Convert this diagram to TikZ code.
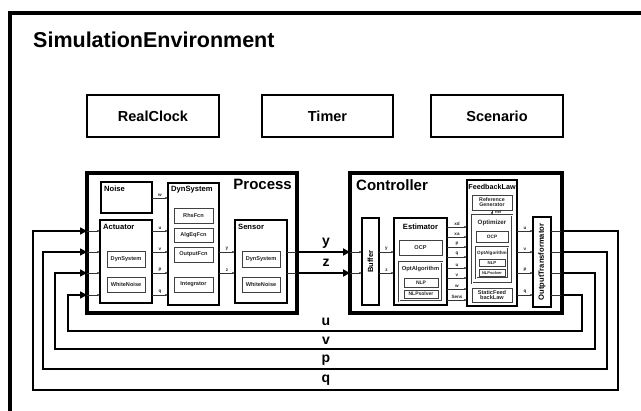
\documentclass[tikz,border=0pt]{standalone}
\usepackage{fontspec}
\setmainfont{Liberation Sans}
\usetikzlibrary{arrows.meta,calc}

% box from corner (x1,y1) to (x2,y2), y measured downwards
\newcommand\blk[7][]{\node[anchor=north west,inner sep=0pt,outer sep=0pt,
  minimum width={#5pt-#3pt},minimum height={#6pt-#4pt},#1] (#2) at (#3,#4) {#7};}
\newcommand\fsz[1]{\bfseries\fontsize{#1}{#1}\selectfont}

\tikzset{
  frame/.style={draw,line width=3.5pt},
  bigbox/.style={draw,line width=3.3pt},
  clockbox/.style={draw,line width=2.4pt,font=\fsz{14.5}},
  mid/.style={draw,line width=1.4pt},
  inbox/.style={draw=black!75,line width=0.8pt,font=\fsz{5.6},text=black!85},
  dbl/.style={draw=black!75,line width=0.45pt,double,double distance=0.9pt},
  ttl/.style={inner sep=0pt,font=\fsz{7.6}},
  sttl/.style={inner sep=0pt,font=\fsz{5.8},text=black!85},
  tiny/.style={inner sep=0pt,font=\fsz{4.6},text=black!85},
  sig/.style={draw=black!80,line width=0.6pt,-{Latex[length=2.6pt,width=2.2pt]}},
  wire/.style={draw=black!80,line width=0.6pt},
  fb/.style={line width=1.6pt,-{Triangle[length=7pt,width=7pt]}},
  yz/.style={line width=2.2pt,-{Triangle[length=7pt,width=7pt]}},
  biglbl/.style={inner sep=0pt,font=\fsz{14}},
  jdot/.style={fill,circle,inner sep=0pt,minimum size=2.6pt},
}

\begin{document}
\begin{tikzpicture}[x=1pt,y=-1pt]
\path[use as bounding box,clip] (0,0) rectangle (641,411);
\fill[white] (0,0) rectangle (641,411);

% outer environment frame (runs past the page on the right and bottom)
\blk[frame]{env}{10}{13}{680}{450}{}
\node[anchor=base west,inner sep=0pt,font=\fsz{21.5}] (title) at (33,48) {SimulationEnvironment};

% top row
\blk[clockbox]{clock}{87}{95}{219}{137}{RealClock}
\blk[clockbox]{timer}{262}{95}{393}{137}{Timer}
\blk[clockbox]{scen}{431}{95}{563}{137}{Scenario}

% ---------------- Process ----------------
\blk[bigbox]{proc}{87}{173}{297}{313}{}
\node[anchor=base east,inner sep=0pt,font=\fsz{15}] (procT) at (292,190) {Process};

\blk[mid,line width=1.8pt]{noise}{101}{182}{152}{213}{}
\node[ttl,anchor=west] (noiseT) at (104,189) {Noise};

\blk[mid]{act}{100}{220}{152}{303}{}
\node[ttl,anchor=west] (actT) at (103,227) {Actuator};
\blk[inbox]{actdyn}{107}{251}{145}{267}{DynSystem}
\blk[inbox]{actwn}{107}{277}{145}{292}{WhiteNoise}

\blk[mid]{dyn}{168}{183}{219}{305}{}
\node[ttl,anchor=west] (dynT) at (171,190) {DynSystem};
\blk[inbox]{rhs}{174}{208}{213}{223}{RhsFcn}
\blk[inbox]{alg}{174}{228}{213}{242}{AlgEqFcn}
\blk[inbox]{outf}{174}{247}{213}{262}{OutputFcn}
\blk[inbox]{integ}{174}{277}{213}{292}{Integrator}

\blk[mid]{sens}{235}{220}{287}{303}{}
\node[ttl,anchor=west] (sensT) at (238,227) {Sensor};
\blk[inbox]{sensdyn}{242}{251}{280}{267}{DynSystem}
\blk[inbox]{senswn}{242}{277}{280}{292}{WhiteNoise}

% signals inside Process
\draw[sig] (noise.east |- 0,198) -- node[tiny,above=1.2pt] (wL) {w} (dyn.west |- 0,198);
\draw[sig] (act.east |- 0,231) -- node[tiny,above=1.2pt] (uL) {u} (dyn.west |- 0,231);
\draw[sig] (act.east |- 0,252) -- node[tiny,above=1.2pt] (vL) {v} (dyn.west |- 0,252);
\draw[sig] (act.east |- 0,273) -- node[tiny,above=1.2pt] (pL) {p} (dyn.west |- 0,273);
\draw[sig] (act.east |- 0,295) -- node[tiny,above=1.2pt] (qL) {q} (dyn.west |- 0,295);
\draw[sig] (dyn.east |- 0,252) -- node[tiny,above=1.2pt] (yL) {y} (sens.west |- 0,252);
\draw[sig] (dyn.east |- 0,273) -- node[tiny,above=1.2pt] (zL) {z} (sens.west |- 0,273);
\foreach \yy in {231,252,273,295}
  \draw[sig] (proc.west |- 0,\yy) -- (act.west |- 0,\yy);
\foreach \yy in {252,273}
  \draw[wire] (sens.east |- 0,\yy) -- (proc.east |- 0,\yy);

% ---------------- Controller ----------------
\blk[bigbox]{ctrl}{350}{173}{562}{313}{}
\node[anchor=base west,inner sep=0pt,font=\fsz{15}] (ctrlT) at (356,191) {Controller};

\blk[mid]{buf}{362}{218}{379}{305}{}
\node[rotate=90,inner sep=0pt,font=\fsz{7.5}] (bufT) at (buf.center) {Buffer};

\blk[mid]{est}{394}{218}{447}{305}{}
\node[ttl] (estT) at (420.5,227) {Estimator};
\blk[inbox]{estocp}{399}{240}{442}{255}{OCP}
\blk[dbl]{estopt}{399}{262}{442}{301}{}
\node[sttl] (estoptT) at (420.5,269) {OptAlgorithm};
\blk[inbox,font=\fsz{5}]{estnlp}{404}{278}{438}{287}{NLP}
\blk[inbox,font=\fsz{5}]{estsolv}{404}{290}{438}{298}{NLPsolver}

\blk[mid]{fbl}{467}{180}{517}{306}{}
\node[ttl,font=\fsz{7.2}] (fblT) at (492,186.5) {FeedbackLaw};
\blk[inbox,align=center,font=\fsz{5.3}]{refgen}{472}{195}{512}{210}{Reference\\[-0.5pt]Generator}
\blk[dbl]{optz}{472}{215}{512}{283}{}
\node[sttl,font=\fsz{6.2}] (optzT) at (492,223) {Optimizer};
\blk[inbox,font=\fsz{4.8}]{optocp}{476}{231}{508}{242}{OCP}
\blk[dbl]{optalg}{476}{247}{508}{278}{}
\node[sttl,font=\fsz{4.6}] (optalgT) at (492,253.5) {OptAlgorithm};
\blk[inbox,font=\fsz{4.3},line width=0.6pt]{optnlp}{479}{259}{505}{266.5}{NLP}
\blk[inbox,font=\fsz{4},line width=0.6pt]{optsolv}{479}{269.5}{505}{276}{NLPsolver}
\blk[inbox,align=center,font=\fsz{5.6}]{sfb}{472}{288}{512}{302}{StaticFeed\\[-0.5pt]backLaw}
\draw[sig] (refgen.south) -- (optz.north);
\node[tiny,font=\fsz{3.8},anchor=west] (refL) at (495,212.5) {Ref};

\blk[mid]{ot}{533}{217}{551}{307}{}
\node[rotate=90,inner sep=0pt,font=\fsz{7.6}] (otT) at (ot.center) {OutputTransformator};

% signals inside Controller
\foreach \yy in {252,273}
  \draw[sig] (ctrl.west |- 0,\yy) -- (buf.west |- 0,\yy);
\draw[sig] (buf.east |- 0,252) -- node[tiny,above=1.2pt] (byL) {y} (est.west |- 0,252);
\draw[sig] (buf.east |- 0,273) -- node[tiny,above=1.2pt] (bzL) {z} (est.west |- 0,273);
\foreach \yy/\nm in {227/xd,237/xa,247/p,257/q,268/u,278/v,289/w,300/Sens}
  \draw[sig] (est.east |- 0,\yy) -- node[tiny,above=1pt] {\nm} (fbl.west |- 0,\yy);
\foreach \yy/\nm in {231/u,252/v,273/p,295/q}
  \draw[sig] (fbl.east |- 0,\yy) -- node[tiny,above=1.2pt] {\nm} (ot.west |- 0,\yy);
\foreach \yy in {231,252,273,295}
  \draw[wire] (ot.east |- 0,\yy) -- (ctrl.east |- 0,\yy);

% ---------------- connections between Process and Controller ----------------
\draw[yz] (proc.east |- 0,252) -- (ctrl.west |- 0,252);
\draw[yz] (proc.east |- 0,273) -- (ctrl.west |- 0,273);
\node[biglbl] (yBig) at (326,243) {y};
\node[biglbl] (zBig) at (326,263) {z};

% feedback loops from the Controller outputs back to the Process inputs
\draw[fb] (ctrl.east |- 0,231) -- (618,231) -- (618,390) -- (33,390) -- (33,231) -- (proc.west |- 0,231);
\draw[fb] (ctrl.east |- 0,252) -- (607,252) -- (607,369) -- (43,369) -- (43,252) -- (proc.west |- 0,252);
\draw[fb] (ctrl.east |- 0,273) -- (595,273) -- (595,349) -- (55,349) -- (55,273) -- (proc.west |- 0,273);
\draw[fb] (ctrl.east |- 0,295) -- (582,295) -- (582,331) -- (68,331) -- (68,295) -- (proc.west |- 0,295);
\node[biglbl] (uBig) at (326,322) {u};
\node[biglbl] (vBig) at (326,341) {v};
\node[biglbl] (pBig) at (326,360) {p};
\node[biglbl] (qBig) at (326,380) {q};

% junction dots on the block borders
\foreach \yy in {231,252,273,295}
  \node[jdot] at (ctrl.east |- 0,\yy) {};
\foreach \yy in {252,273}
  \node[jdot] at (proc.east |- 0,\yy) {};
\end{tikzpicture}
\end{document}
